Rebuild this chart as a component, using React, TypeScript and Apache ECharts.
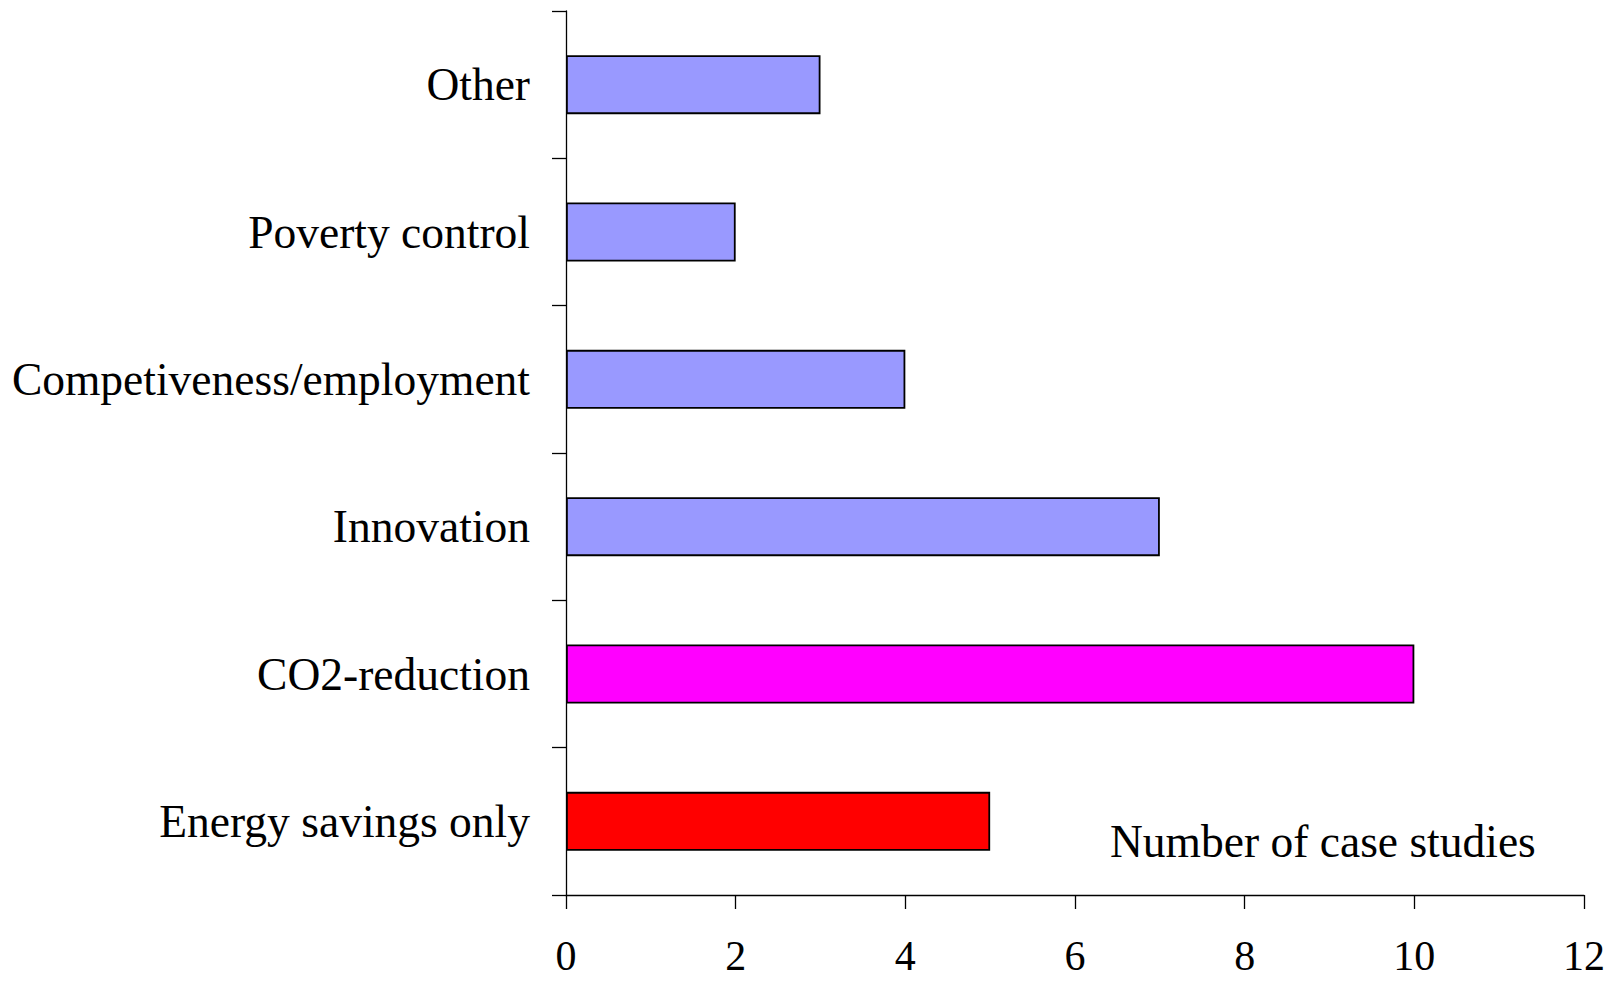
import React, { useEffect, useRef } from "react";
import * as echarts from "echarts";

const categories = [
  "Energy savings only",
  "CO2-reduction",
  "Innovation",
  "Competiveness/employment",
  "Poverty control",
  "Other",
];
const values = [5, 10, 7, 4, 2, 3];
const barColors = ["#FF0000", "#FF00FF", "#9999FF", "#9999FF", "#9999FF", "#9999FF"];
const xTicks = [0, 2, 4, 6, 8, 10, 12];
const axisTitle = "Number of case studies";

const FONT = "'Liberation Serif', 'Times New Roman', serif";

export default function App() {
  const ref = useRef<HTMLDivElement>(null);
  useEffect(() => {
    if (!ref.current) return;
    const chart = echarts.init(ref.current, undefined, { renderer: "svg" });
    chart.setOption({
      animation: false,
      backgroundColor: "#ffffff",
      grid: { left: 566, top: 11, width: 1018, height: 884, containLabel: false },
      xAxis: {
        type: "value",
        min: xTicks[0],
        max: xTicks[xTicks.length - 1],
        interval: 2,
        axisLine: { show: true, lineStyle: { color: "#000", width: 1.3 } },
        axisTick: { show: true, length: 14, lineStyle: { color: "#000", width: 1.3 } },
        splitLine: { show: false },
        axisLabel: {
          color: "#000",
          fontFamily: FONT,
          fontSize: 42,
          lineHeight: 34,
          margin: 44,
        },
      },
      yAxis: {
        type: "category",
        data: categories,
        axisLine: { show: true, lineStyle: { color: "#000", width: 1.3 } },
        axisTick: { show: true, length: 14, lineStyle: { color: "#000", width: 1.3 } },
        splitLine: { show: false },
        axisLabel: { color: "#000", fontFamily: FONT, fontSize: 45.5, margin: 36 },
      },
      graphic: [
        {
          type: "text",
          left: 1110,
          top: 818,
          style: { text: axisTitle, fill: "#000", font: `45.5px ${FONT}` },
        },
      ],
      series: [
        {
          type: "bar",
          barWidth: "40%",
          data: values.map((v, i) => ({
            value: v,
            itemStyle: { color: barColors[i], borderColor: "#000", borderWidth: 1.8 },
          })),
        },
      ],
    });
    return () => chart.dispose();
  }, []);
  return (
    <div
      ref={ref}
      style={{ position: "fixed", left: 0, top: 0, width: 1614, height: 981 }}
    />
  );
}
